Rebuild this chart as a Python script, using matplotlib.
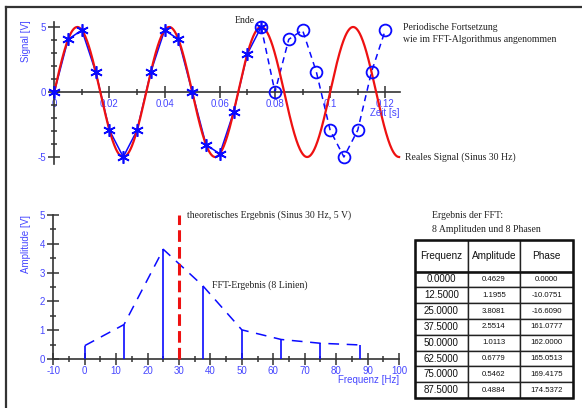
import numpy as np
import matplotlib
matplotlib.use("Agg")
import matplotlib.pyplot as plt
from matplotlib.lines import Line2D
from matplotlib.patches import Rectangle
from matplotlib.ticker import MultipleLocator, FixedLocator

plt.rcParams["axes.unicode_minus"] = False

# ---------------------------------------------------------------- data
# 16 Abtastwerte (200 Hz) eines 30-Hz-Sinus mit 5 V Amplitude
sample_times = [0.000, 0.005, 0.010, 0.015, 0.020, 0.025, 0.030, 0.035,
                0.040, 0.045, 0.050, 0.055, 0.060, 0.065, 0.070, 0.075]
sample_values = [0.00, 4.05, 4.76, 1.55, -2.94, -5.00, -2.94, 1.55,
                 4.76, 4.05, 0.00, -4.05, -4.76, -1.55, 2.94, 5.00]

# periodische Fortsetzung, wie sie die FFT annimmt
continuation_times = [0.075, 0.080, 0.085, 0.090, 0.095, 0.100,
                      0.105, 0.110, 0.115, 0.120]
continuation_values = [5.00, 0.00, 4.05, 4.76, 1.55, -2.94,
                       -5.00, -2.94, 1.55, 4.76]

# reales Signal
signal_amplitude = 5.0     # V
signal_frequency = 30.0    # Hz
signal_duration = 0.125    # s

# Ergebnis der FFT
fft_freqs = [0.0, 12.5, 25.0, 37.5, 50.0, 62.5, 75.0, 87.5]
fft_amplitudes = [0.4629, 1.1955, 3.8081, 2.5514, 1.0113, 0.6779, 0.5462, 0.4884]
fft_phases = [0.0000, -10.0751, -16.6090, 161.0777, 162.0000,
              165.0513, 169.4175, 174.5372]

# theoretisches Ergebnis
theory_freq = 30.0
theory_amp = 5.0

time_ticks = [0.0, 0.02, 0.04, 0.06, 0.08, 0.10, 0.12]
time_tick_labels = ["0", "0.02", "0.04", "0.06", "0.08", "0.1", "0.12"]
signal_ticks = [-5, 0, 5]
freq_ticks = [-10, 0, 10, 20, 30, 40, 50, 60, 70, 80, 90, 100]
amp_ticks = [0, 1, 2, 3, 4, 5]
table_headers = ["Frequenz", "Amplitude", "Phase"]

# ---------------------------------------------------------------- style
W, H, DPI = 582, 408, 100
SANS = "Liberation Sans"
SERIF = "Liberation Serif"
AXIS_COL = "#333333"
TICK_COL = "#4646ff"
TEXT_COL = "#222222"
RED = "#ee1111"
BLUE = "#0a0aff"
TICK_FS = 7.0
SERIF_FS = 7.0

fig = plt.figure(figsize=(W / DPI, H / DPI), dpi=DPI)
fig.patch.set_facecolor("white")


def px_axes(x0, y0, x1, y1):
    return fig.add_axes([x0 / W, 1 - y1 / H, (x1 - x0) / W, (y1 - y0) / H])


def ftext(x, y, s, **kw):
    return fig.text(x / W, 1 - y / H, s, **kw)


def style_axes(ax):
    ax.patch.set_visible(False)
    for side in ("top", "right"):
        ax.spines[side].set_visible(False)
    for side in ("left", "bottom"):
        ax.spines[side].set_color(AXIS_COL)
        ax.spines[side].set_linewidth(1.2)
    ax.tick_params(which="both", direction="inout", color=AXIS_COL,
                   width=1.1, labelcolor=TICK_COL, labelsize=TICK_FS)
    ax.tick_params(which="major", length=8)
    ax.tick_params(which="minor", length=4)
    for lab in ax.get_xticklabels() + ax.get_yticklabels():
        lab.set_fontfamily(SANS)


# ---------------------------------------------------------------- frame
fig.add_artist(Line2D([6 / W, 1.0], [1 - 7 / H, 1 - 7 / H],
                      transform=fig.transFigure, color=AXIS_COL, lw=1.6))
fig.add_artist(Line2D([6 / W, 6 / W], [1 - 7 / H, 0.0],
                      transform=fig.transFigure, color=AXIS_COL, lw=1.6))

# ---------------------------------------------------------------- time signal
ax1 = px_axes(54.3, 21.8, 400, 163.5)
ax1.set_xlim(0, 0.12533)
ax1.set_ylim(-5.5, 5.4)
ax1.spines["bottom"].set_position(("data", 0))
ax1.xaxis.set_major_locator(FixedLocator(time_ticks))
ax1.set_xticklabels(time_tick_labels)
ax1.xaxis.set_minor_locator(MultipleLocator(0.01))
ax1.yaxis.set_major_locator(FixedLocator(signal_ticks))
ax1.yaxis.set_minor_locator(MultipleLocator(1))
style_axes(ax1)
ax1.tick_params(axis="x", pad=1)
ax1.tick_params(axis="y", pad=2)

t = np.linspace(0, signal_duration, 800)
ax1.plot(sample_times, sample_values, color=BLUE, lw=1.1, zorder=2, clip_on=False)
ax1.plot(continuation_times, continuation_values, color=BLUE, lw=1.1,
         dashes=(4, 3), zorder=2, clip_on=False)
ax1.plot(t, signal_amplitude * np.sin(2 * np.pi * signal_frequency * t),
         color=RED, lw=1.6, zorder=3, clip_on=False)
ax1.plot(sample_times, sample_values, ls="none", marker=(6, 2, 0), ms=9,
         mec=BLUE, mew=1.2, zorder=4, clip_on=False)
ax1.plot(continuation_times, continuation_values, ls="none", marker="o",
         ms=8.5, mfc="none", mec=BLUE, mew=1.3, zorder=4, clip_on=False)

ftext(26, 20, "Signal [V]", rotation=90, ha="center", va="top",
      color=TICK_COL, fontsize=TICK_FS, family=SANS)
ftext(399, 112.5, "Zeit [s]", ha="right", va="center",
      color=TICK_COL, fontsize=TICK_FS, family=SANS)
ftext(235, 20.5, "Ende", ha="left", va="center", color=TEXT_COL,
      fontsize=SERIF_FS, family=SERIF)
ftext(403, 27, "Periodische Fortsetzung", ha="left", va="center",
      color=TEXT_COL, fontsize=SERIF_FS, family=SERIF)
ftext(403, 39.5, "wie im FFT-Algorithmus angenommen", ha="left", va="center",
      color=TEXT_COL, fontsize=SERIF_FS, family=SERIF)
ftext(405, 157.5, "Reales Signal (Sinus 30 Hz)", ha="left", va="center",
      color=TEXT_COL, fontsize=SERIF_FS, family=SERIF)

# ---------------------------------------------------------------- spectrum
ax2 = px_axes(53.3, 215, 399, 359)
ax2.set_xlim(-10, 100)
ax2.set_ylim(0, 5)
ax2.xaxis.set_major_locator(FixedLocator(freq_ticks))
ax2.xaxis.set_minor_locator(MultipleLocator(5))
ax2.yaxis.set_major_locator(FixedLocator(amp_ticks))
ax2.yaxis.set_minor_locator(MultipleLocator(0.5))
style_axes(ax2)
ax2.tick_params(axis="x", pad=1)
ax2.tick_params(axis="y", pad=2)

ax2.vlines(fft_freqs, 0, fft_amplitudes, color=BLUE, lw=1.2, zorder=3)
ax2.plot(fft_freqs, fft_amplitudes, color=BLUE, lw=1.1, dashes=(7, 5), zorder=3)
ax2.plot([theory_freq, theory_freq], [0, theory_amp], color=RED, lw=2.2,
         dashes=(3.8, 1.7), zorder=4, clip_on=False)

ftext(26, 215, "Amplitude [V]", rotation=90, ha="center", va="top",
      color=TICK_COL, fontsize=TICK_FS, family=SANS)
ftext(399, 380, "Frequenz [Hz]", ha="right", va="center",
      color=TICK_COL, fontsize=TICK_FS, family=SANS)
ftext(187, 215, "theoretisches Ergebnis (Sinus 30 Hz, 5 V)", ha="left",
      va="center", color=TEXT_COL, fontsize=SERIF_FS, family=SERIF)
ftext(212, 285, "FFT-Ergebnis (8 Linien)", ha="left", va="center",
      color=TEXT_COL, fontsize=SERIF_FS, family=SERIF)

# ---------------------------------------------------------------- table
ftext(432, 215, "Ergebnis der FFT:", ha="left", va="center",
      color=TEXT_COL, fontsize=SERIF_FS, family=SERIF)
ftext(432, 230, "8 Amplituden und 8 Phasen", ha="left", va="center",
      color=TEXT_COL, fontsize=SERIF_FS, family=SERIF)

tax = px_axes(415, 240, 573, 398)
tax.axis("off")
rows = [[f"{f:.4f}", f"{a:.4f}", f"{p:.4f}"]
        for f, a, p in zip(fft_freqs, fft_amplitudes, fft_phases)]
table = tax.table(cellText=rows, colLabels=table_headers, cellLoc="center",
                  bbox=[0, 0, 1, 1])
table.auto_set_font_size(False)
for (r, c), cell in table.get_celld().items():
    cell.set_linewidth(1.0)
    cell.set_edgecolor("#222222")
    cell.set_height(2.0 if r == 0 else 1.0)
    txt = cell.get_text()
    txt.set_fontfamily(SANS)
    txt.set_color("#111111")
    if r == 0:
        txt.set_fontsize(7.2)
    elif c == 0:
        txt.set_fontsize(7.0)
    else:
        txt.set_fontsize(5.6)
tax.add_patch(Rectangle((0, 0), 1, 1, transform=tax.transAxes, fill=False,
                        lw=1.8, edgecolor="#111111", clip_on=False, zorder=5))
tax.add_line(Line2D([0, 1], [0.8, 0.8], transform=tax.transAxes,
                    color="#111111", lw=1.8, zorder=5))

fig.savefig("out.png", dpi=DPI)
